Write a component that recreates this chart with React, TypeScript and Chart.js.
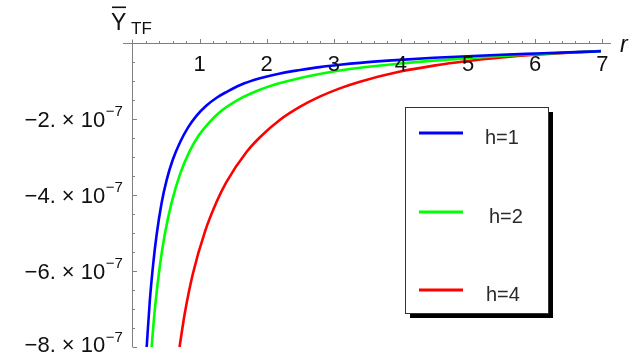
import React, { useEffect, useRef } from "react";
import { Chart, registerables } from "chart.js";

Chart.register(...registerables);

// ---- data ----
const blueR = [0.212, 0.26, 0.31, 0.36, 0.435, 0.51, 0.6, 0.71, 0.83, 0.957, 1.1, 1.255, 1.4, 1.6, 1.9, 2.2, 2.5, 2.79, 3.09, 3.39, 3.99, 4.49, 4.99, 5.5, 6.0, 6.5, 6.98];
const blueY = [-8.02e-7, -6.77e-7, -5.81e-7, -5.06e-7, -4.21e-7, -3.61e-7, -3.08e-7, -2.61e-7, -2.22e-7, -1.91e-7, -1.65e-7, -1.44e-7, -1.29e-7, -1.11e-7, -0.93e-7, -0.8e-7, -0.71e-7, -0.634e-7, -0.573e-7, -0.522e-7, -0.444e-7, -0.39e-7, -0.347e-7, -0.309e-7, -0.277e-7, -0.246e-7, -0.218e-7];

const greenR = [0.286, 0.335, 0.41, 0.484, 0.584, 0.71, 0.85, 0.99, 1.15, 1.3, 1.6, 1.9, 2.2, 2.5, 2.79, 3.09, 3.39, 3.99, 4.49, 4.99, 5.5, 6.0, 6.5, 6.98];
const greenY = [-8.01e-7, -6.99e-7, -5.85e-7, -5.02e-7, -4.2e-7, -3.45e-7, -2.86e-7, -2.43e-7, -2.08e-7, -1.82e-7, -1.47e-7, -1.23e-7, -1.055e-7, -0.92e-7, -0.814e-7, -0.725e-7, -0.652e-7, -0.539e-7, -0.463e-7, -0.401e-7, -0.344e-7, -0.295e-7, -0.252e-7, -0.215e-7];

const redR = [0.7, 0.78, 0.9, 1.08, 1.255, 1.4, 1.7, 1.9, 2.2, 2.5, 2.79, 3.09, 3.39, 3.99, 4.49, 4.99, 5.5, 6.0, 6.5, 6.98];
const redY = [-8.03e-7, -7.12e-7, -6.08e-7, -4.97e-7, -4.18e-7, -3.66e-7, -2.87e-7, -2.48e-7, -2.02e-7, -1.676e-7, -1.412e-7, -1.194e-7, -1.018e-7, -0.752e-7, -0.595e-7, -0.475e-7, -0.382e-7, -0.31e-7, -0.254e-7, -0.211e-7];

const seriesLabels = ["h=1", "h=2", "h=4"];
const seriesColors = ["#0000ff", "#00ff00", "#ff0000"];

const xTickLabels = [1, 2, 3, 4, 5, 6, 7];
const yTickMantissas = [-2, -4, -6, -8];
const yTickExponent = -7;
const xLabel = "r";
const yLabelMain = "Y";
const yLabelSub = "TF";

const FONT = "'Liberation Sans', Arial, sans-serif";

const axesPlugin = {
  id: "mmaAxes",
  beforeDatasetsDraw(chart: any) {
    const ctx = chart.ctx as CanvasRenderingContext2D;
    const xs = chart.scales.x;
    const ys = chart.scales.y;
    const area = chart.chartArea;
    const y0 = Math.round(ys.getPixelForValue(0)) + 0.5;
    const x0 = Math.round(xs.getPixelForValue(0)) + 0.5;
    ctx.save();
    ctx.strokeStyle = "#808080";
    ctx.lineWidth = 1;
    ctx.beginPath();
    ctx.moveTo(area.left, y0);
    ctx.lineTo(area.right, y0);
    ctx.stroke();
    for (let i = 1; i <= 35; i++) {
      const v = i * 0.2;
      const px = Math.round(xs.getPixelForValue(v)) + 0.5;
      const major = i % 5 === 0;
      ctx.beginPath();
      ctx.moveTo(px, y0);
      ctx.lineTo(px, y0 - (major ? 4.5 : 2.5));
      ctx.stroke();
    }
    ctx.beginPath();
    ctx.moveTo(x0, y0 - 4);
    ctx.lineTo(x0, area.bottom);
    ctx.stroke();
    for (let i = 1; i <= 16; i++) {
      const v = -i * 0.5e-7;
      const py = Math.round(ys.getPixelForValue(v)) + 0.5;
      const major = i % 4 === 0;
      ctx.beginPath();
      ctx.moveTo(x0, py);
      ctx.lineTo(x0 + (major ? 4.5 : 2.5), py);
      ctx.stroke();
    }
    ctx.restore();
  },
  afterDraw(chart: any) {
    const ctx = chart.ctx as CanvasRenderingContext2D;
    const xs = chart.scales.x;
    const ys = chart.scales.y;
    const y0 = ys.getPixelForValue(0);
    const x0 = xs.getPixelForValue(0);
    ctx.save();
    ctx.fillStyle = "#111";
    ctx.font = `22px ${FONT}`;
    ctx.textAlign = "center";
    ctx.textBaseline = "alphabetic";
    xTickLabels.forEach((t) => {
      ctx.fillText(String(t), xs.getPixelForValue(t), y0 + 28);
    });
    const rightX = x0 - 9.5;
    yTickMantissas.forEach((m) => {
      const py = ys.getPixelForValue(m * 1e-7);
      const base = Math.min(py + 7.5, 352);
      const sup = "\u2212" + String(Math.abs(yTickExponent));
      ctx.font = `15px ${FONT}`;
      ctx.textAlign = "right";
      const supW = ctx.measureText(sup).width;
      ctx.fillText(sup, rightX, base - 10.5);
      ctx.font = `22px ${FONT}`;
      const main = "\u2212" + String(Math.abs(m)) + ". \u00d7 10";
      ctx.fillText(main, rightX - supW - 0.5, base);
    });
    ctx.textAlign = "left";
    ctx.font = `italic 23px ${FONT}`;
    ctx.fillText(xLabel, 620, y0 + 9);
    ctx.font = `23px ${FONT}`;
    ctx.fillText(yLabelMain, 111, 30);
    ctx.fillRect(112, 6.5, 14, 1.6);
    ctx.font = `17px ${FONT}`;
    ctx.fillText(yLabelSub, 131, 34);

    const lx = 405, ly = 107, lw = 143, lh = 206;
    ctx.fillStyle = "#000";
    ctx.fillRect(lx + 5, ly + 5, lw, lh);
    ctx.fillStyle = "#fff";
    ctx.fillRect(lx, ly, lw, lh);
    ctx.strokeStyle = "#333";
    ctx.lineWidth = 1;
    ctx.strokeRect(lx + 0.5, ly + 0.5, lw, lh);
    const rowsY = [133, 212, 290];
    const textX = [485, 489, 486];
    chart.data.datasets.forEach((ds: any, i: number) => {
      ctx.strokeStyle = ds.borderColor;
      ctx.lineWidth = 3;
      ctx.beginPath();
      ctx.moveTo(419, rowsY[i]);
      ctx.lineTo(463, rowsY[i]);
      ctx.stroke();
      ctx.fillStyle = "#2a2a2a";
      ctx.font = `20px ${FONT}`;
      ctx.textAlign = "left";
      ctx.fillText(ds.label, textX[i], rowsY[i] + 11);
    });
    ctx.restore();
  },
};

function toPoints(rs: number[], vs: number[]) {
  return rs.map((r, i) => ({ x: r, y: vs[i] }));
}

export default function App() {
  const ref = useRef<HTMLCanvasElement | null>(null);
  useEffect(() => {
    if (!ref.current) return;
    const seriesR = [blueR, greenR, redR];
    const seriesY = [blueY, greenY, redY];
    const chart = new Chart(ref.current, {
      type: "scatter",
      data: {
        datasets: seriesLabels.map((label, i) => ({
          label,
          data: toPoints(seriesR[i], seriesY[i]),
          borderColor: seriesColors[i],
          backgroundColor: seriesColors[i],
          borderWidth: 2.6,
          showLine: true,
          pointRadius: 0,
          cubicInterpolationMode: "monotone" as const,
          fill: false,
        })),
      },
      options: {
        responsive: false,
        animation: false,
        devicePixelRatio: 1,
        layout: { padding: { left: 123, right: 29, top: 43, bottom: 15 } },
        plugins: { legend: { display: false }, tooltip: { enabled: false } },
        scales: {
          x: { type: "linear", min: -0.14, max: 7.13, display: false },
          y: { type: "linear", min: -8e-7, max: 0, display: false },
        },
      },
      plugins: [axesPlugin],
    });
    return () => chart.destroy();
  }, []);
  return (
    <div style={{ position: "fixed", left: 0, top: 0, width: 640, height: 362, background: "#fff" }}>
      <canvas ref={ref} width={640} height={362} style={{ display: "block" }} />
    </div>
  );
}
